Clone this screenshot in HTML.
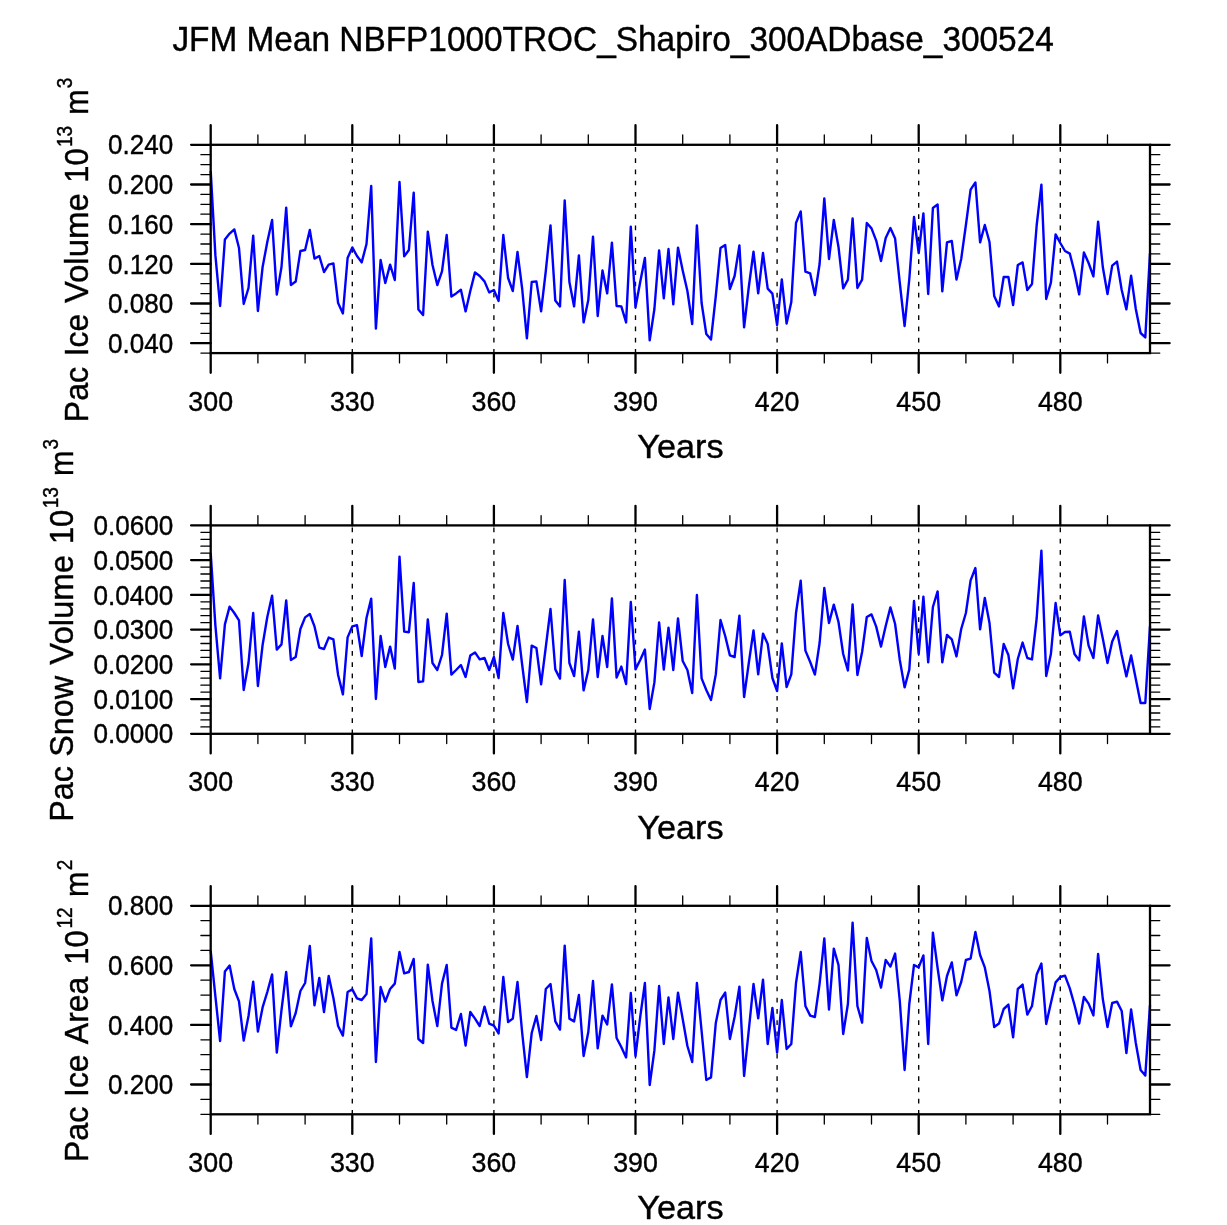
<!DOCTYPE html>
<html><head><meta charset="utf-8"><title>JFM Mean</title>
<style>
html,body{margin:0;padding:0;background:#fff;}
body{width:1227px;height:1225px;overflow:hidden;}
svg{display:block;will-change:transform;}
text{font-family:"Liberation Sans",sans-serif;fill:#000;stroke:#000;stroke-width:0.4px;}
.tk{font-size:28.4px;}
.lb{font-size:32.7px;}
.tt{font-size:34.6px;}
.fr{stroke:#000;stroke-width:2.3;fill:none;}
.mj{stroke:#000;stroke-width:2.3;fill:none;stroke-linecap:round;}
.mn{stroke:#000;stroke-width:1.3;fill:none;stroke-linecap:round;}
.ds{stroke:#000;stroke-width:1.35;stroke-dasharray:4.7 6.52;fill:none;}
.ln{stroke:#0000ff;stroke-width:2.4;fill:none;stroke-linejoin:round;stroke-linecap:butt;}
</style></head><body>
<svg width="1227" height="1225" viewBox="0 0 1227 1225">
<rect x="0" y="0" width="1227" height="1225" fill="#fff"/>
<text class="tt" x="613.1" y="51" text-anchor="middle" textLength="881.4" lengthAdjust="spacingAndGlyphs">JFM Mean NBFP1000TROC_Shapiro_300ADbase_300524</text>

<line class="ds" x1="352.3" y1="147.0" x2="352.3" y2="353.1"/>
<line class="ds" x1="493.9" y1="147.0" x2="493.9" y2="353.1"/>
<line class="ds" x1="635.5" y1="147.0" x2="635.5" y2="353.1"/>
<line class="ds" x1="777.1" y1="147.0" x2="777.1" y2="353.1"/>
<line class="ds" x1="918.7" y1="147.0" x2="918.7" y2="353.1"/>
<line class="ds" x1="1060.3" y1="147.0" x2="1060.3" y2="353.1"/>
<polyline class="ln" points="210.7,171.0 215.4,255.4 220.1,306.0 224.9,239.4 229.6,233.6 234.3,229.4 239.0,248.0 243.7,304.0 248.5,288.0 253.2,235.6 257.9,311.0 262.6,267.0 267.3,242.0 272.1,220.0 276.8,294.6 281.5,267.0 286.2,207.6 290.9,285.0 295.7,281.6 300.4,251.0 305.1,250.0 309.8,230.0 314.5,258.6 319.3,256.0 324.0,272.0 328.7,264.6 333.4,263.4 338.1,303.0 342.9,313.4 347.6,258.0 352.3,247.4 357.0,256.0 361.7,262.4 366.5,244.0 371.2,186.0 375.9,328.6 380.6,260.0 385.3,283.0 390.1,264.6 394.8,280.0 399.5,182.0 404.2,256.4 408.9,250.0 413.7,192.6 418.4,309.4 423.1,315.0 427.8,231.6 432.5,265.0 437.3,285.0 442.0,271.4 446.7,235.0 451.4,296.6 456.1,293.4 460.9,289.8 465.6,311.4 470.3,291.0 475.0,272.4 479.7,276.0 484.5,281.4 489.2,292.4 493.9,290.0 498.6,301.0 503.3,235.0 508.1,278.0 512.8,291.0 517.5,252.0 522.2,289.0 526.9,338.4 531.7,282.0 536.4,281.4 541.1,311.4 545.8,271.0 550.5,225.4 555.3,300.6 560.0,306.4 564.7,200.4 569.4,282.0 574.1,306.4 578.9,255.4 583.6,322.4 588.3,300.0 593.0,236.6 597.7,316.0 602.5,270.4 607.2,293.4 611.9,242.6 616.6,306.0 621.3,306.4 626.1,322.4 630.8,226.6 635.5,307.4 640.2,282.0 644.9,258.0 649.7,340.4 654.4,309.0 659.1,250.4 663.8,298.4 668.5,249.0 673.3,304.4 678.0,247.6 682.7,270.4 687.4,291.0 692.2,324.0 696.9,225.4 701.6,303.0 706.3,334.0 711.0,339.6 715.8,296.0 720.5,248.0 725.2,245.0 729.9,289.0 734.6,276.0 739.4,245.4 744.1,327.4 748.8,287.0 753.5,251.6 758.2,293.4 763.0,253.0 767.7,288.6 772.4,293.6 777.1,325.0 781.8,279.4 786.6,323.6 791.3,302.0 796.0,223.0 800.7,211.4 805.4,271.6 810.2,273.4 814.9,295.0 819.6,264.0 824.3,198.4 829.0,259.0 833.8,220.0 838.5,247.0 843.2,288.4 847.9,279.6 852.6,218.4 857.4,288.0 862.1,279.6 866.8,223.0 871.5,228.4 876.2,240.6 881.0,261.0 885.7,238.0 890.4,228.0 895.1,238.6 899.8,283.0 904.6,326.0 909.3,279.0 914.0,217.0 918.7,253.0 923.4,213.4 928.2,294.0 932.9,208.0 937.6,204.4 942.3,291.4 947.0,242.4 951.8,241.0 956.5,279.6 961.2,259.0 965.9,225.0 970.6,189.6 975.4,182.4 980.1,242.4 984.8,225.0 989.5,242.0 994.2,296.0 999.0,306.4 1003.7,277.0 1008.4,277.0 1013.1,305.0 1017.8,265.0 1022.6,262.4 1027.3,290.0 1032.0,284.0 1036.7,225.0 1041.4,184.6 1046.2,299.0 1050.9,282.6 1055.6,234.4 1060.3,243.0 1065.0,251.0 1069.8,253.6 1074.5,272.0 1079.2,294.4 1083.9,252.4 1088.6,263.0 1093.4,276.4 1098.1,221.6 1102.8,267.0 1107.5,294.0 1112.2,265.6 1117.0,261.6 1121.7,290.0 1126.4,309.4 1131.1,275.6 1135.8,309.0 1140.6,333.0 1145.3,337.4 1150.0,253.0"/>
<rect class="fr" x="210.7" y="144.8" width="939.3" height="208.3"/>
<path class="mj" d="M210.7 125.2V144.8M210.7 353.1V372.8M352.3 125.2V144.8M352.3 353.1V372.8M493.9 125.2V144.8M493.9 353.1V372.8M635.5 125.2V144.8M635.5 353.1V372.8M777.1 125.2V144.8M777.1 353.1V372.8M918.7 125.2V144.8M918.7 353.1V372.8M1060.3 125.2V144.8M1060.3 353.1V372.8M191.1 343.2H210.7M1150.0 343.2H1169.6M191.1 303.5H210.7M1150.0 303.5H1169.6M191.1 263.9H210.7M1150.0 263.9H1169.6M191.1 224.2H210.7M1150.0 224.2H1169.6M191.1 184.5H210.7M1150.0 184.5H1169.6M191.1 144.8H210.7M1150.0 144.8H1169.6"/>
<path class="mn" d="M257.9 135.0V144.8M257.9 353.1V362.9M305.1 135.0V144.8M305.1 353.1V362.9M399.5 135.0V144.8M399.5 353.1V362.9M446.7 135.0V144.8M446.7 353.1V362.9M541.1 135.0V144.8M541.1 353.1V362.9M588.3 135.0V144.8M588.3 353.1V362.9M682.7 135.0V144.8M682.7 353.1V362.9M729.9 135.0V144.8M729.9 353.1V362.9M824.3 135.0V144.8M824.3 353.1V362.9M871.5 135.0V144.8M871.5 353.1V362.9M965.9 135.0V144.8M965.9 353.1V362.9M1013.1 135.0V144.8M1013.1 353.1V362.9M1107.5 135.0V144.8M1107.5 353.1V362.9M200.9 353.1H210.7M1150.0 353.1H1159.8M200.9 333.3H210.7M1150.0 333.3H1159.8M200.9 323.4H210.7M1150.0 323.4H1159.8M200.9 313.5H210.7M1150.0 313.5H1159.8M200.9 293.6H210.7M1150.0 293.6H1159.8M200.9 283.7H210.7M1150.0 283.7H1159.8M200.9 273.8H210.7M1150.0 273.8H1159.8M200.9 253.9H210.7M1150.0 253.9H1159.8M200.9 244.0H210.7M1150.0 244.0H1159.8M200.9 234.1H210.7M1150.0 234.1H1159.8M200.9 214.2H210.7M1150.0 214.2H1159.8M200.9 204.3H210.7M1150.0 204.3H1159.8M200.9 194.4H210.7M1150.0 194.4H1159.8M200.9 174.6H210.7M1150.0 174.6H1159.8M200.9 164.6H210.7M1150.0 164.6H1159.8M200.9 154.7H210.7M1150.0 154.7H1159.8"/>
<text class="tk" x="173.2" y="154.4" text-anchor="end" textLength="65.2" lengthAdjust="spacingAndGlyphs">0.240</text>
<text class="tk" x="173.2" y="194.1" text-anchor="end" textLength="65.2" lengthAdjust="spacingAndGlyphs">0.200</text>
<text class="tk" x="173.2" y="233.8" text-anchor="end" textLength="65.2" lengthAdjust="spacingAndGlyphs">0.160</text>
<text class="tk" x="173.2" y="273.5" text-anchor="end" textLength="65.2" lengthAdjust="spacingAndGlyphs">0.120</text>
<text class="tk" x="173.2" y="313.1" text-anchor="end" textLength="65.2" lengthAdjust="spacingAndGlyphs">0.080</text>
<text class="tk" x="173.2" y="352.8" text-anchor="end" textLength="65.2" lengthAdjust="spacingAndGlyphs">0.040</text>
<text class="tk" x="210.7" y="410.5" text-anchor="middle" textLength="44.7" lengthAdjust="spacingAndGlyphs">300</text>
<text class="tk" x="352.3" y="410.5" text-anchor="middle" textLength="44.7" lengthAdjust="spacingAndGlyphs">330</text>
<text class="tk" x="493.9" y="410.5" text-anchor="middle" textLength="44.7" lengthAdjust="spacingAndGlyphs">360</text>
<text class="tk" x="635.5" y="410.5" text-anchor="middle" textLength="44.7" lengthAdjust="spacingAndGlyphs">390</text>
<text class="tk" x="777.1" y="410.5" text-anchor="middle" textLength="44.7" lengthAdjust="spacingAndGlyphs">420</text>
<text class="tk" x="918.7" y="410.5" text-anchor="middle" textLength="44.7" lengthAdjust="spacingAndGlyphs">450</text>
<text class="tk" x="1060.3" y="410.5" text-anchor="middle" textLength="44.7" lengthAdjust="spacingAndGlyphs">480</text>
<text class="lb" transform="translate(680.4,458.1) scale(1,1.035)" text-anchor="middle" textLength="86.2" lengthAdjust="spacingAndGlyphs">Years</text>
<text transform="translate(88.3,422.38) rotate(-90) scale(1,1.025)" font-size="32.7" textLength="55.6" lengthAdjust="spacingAndGlyphs">Pac</text>
<text transform="translate(88.3,356.26) rotate(-90) scale(1,1.025)" font-size="32.7" textLength="42.6" lengthAdjust="spacingAndGlyphs">Ice</text>
<text transform="translate(88.3,303.11) rotate(-90) scale(1,1.025)" font-size="32.7" textLength="109.9" lengthAdjust="spacingAndGlyphs">Volume</text>
<text transform="translate(88.3,182.71) rotate(-90) scale(1,1.025)" font-size="32.7" textLength="34.4" lengthAdjust="spacingAndGlyphs">10</text>
<text transform="translate(72.0,147.07) rotate(-90) scale(1,1.025)" font-size="21.7" textLength="21.2" lengthAdjust="spacingAndGlyphs">13</text>
<text transform="translate(88.3,114.67) rotate(-90) scale(1,1.025)" font-size="32.7" textLength="25.3" lengthAdjust="spacingAndGlyphs">m</text>
<text transform="translate(72.0,88.3) rotate(-90) scale(1,1.025)" font-size="21.7" textLength="10.5" lengthAdjust="spacingAndGlyphs">3</text>
<line class="ds" x1="352.3" y1="527.6" x2="352.3" y2="733.8"/>
<line class="ds" x1="493.9" y1="527.6" x2="493.9" y2="733.8"/>
<line class="ds" x1="635.5" y1="527.6" x2="635.5" y2="733.8"/>
<line class="ds" x1="777.1" y1="527.6" x2="777.1" y2="733.8"/>
<line class="ds" x1="918.7" y1="527.6" x2="918.7" y2="733.8"/>
<line class="ds" x1="1060.3" y1="527.6" x2="1060.3" y2="733.8"/>
<polyline class="ln" points="210.7,553.4 215.4,625.6 220.1,678.4 224.9,624.4 229.6,606.6 234.3,613.0 239.0,620.4 243.7,690.0 248.5,663.0 253.2,613.0 257.9,686.0 262.6,645.0 267.3,617.0 272.1,595.6 276.8,649.6 281.5,644.4 286.2,600.4 290.9,660.0 295.7,657.0 300.4,629.0 305.1,617.4 309.8,614.0 314.5,626.4 319.3,647.6 324.0,649.0 328.7,637.6 333.4,639.4 338.1,675.0 342.9,694.4 347.6,637.4 352.3,626.4 357.0,625.2 361.7,656.0 366.5,618.0 371.2,598.6 375.9,699.0 380.6,636.0 385.3,667.0 390.1,646.6 394.8,668.6 399.5,556.6 404.2,631.6 408.9,632.2 413.7,583.0 418.4,682.0 423.1,681.4 427.8,619.4 432.5,663.0 437.3,670.0 442.0,655.0 446.7,613.6 451.4,674.6 456.1,670.0 460.9,665.0 465.6,677.0 470.3,655.4 475.0,652.4 479.7,659.4 484.5,658.0 489.2,670.0 493.9,657.0 498.6,678.0 503.3,613.0 508.1,644.0 512.8,659.6 517.5,626.0 522.2,665.0 526.9,702.0 531.7,645.6 536.4,648.0 541.1,684.4 545.8,647.0 550.5,609.0 555.3,669.4 560.0,678.6 564.7,580.0 569.4,663.0 574.1,676.0 578.9,631.6 583.6,690.4 588.3,670.0 593.0,619.4 597.7,677.0 602.5,636.0 607.2,667.0 611.9,598.4 616.6,677.6 621.3,666.6 626.1,684.0 630.8,602.0 635.5,669.4 640.2,660.0 644.9,649.6 649.7,709.0 654.4,682.4 659.1,622.4 663.8,669.6 668.5,627.6 673.3,670.0 678.0,618.4 682.7,661.0 687.4,670.0 692.2,693.0 696.9,595.0 701.6,678.4 706.3,690.0 711.0,700.0 715.8,674.4 720.5,620.0 725.2,636.0 729.9,655.4 734.6,657.0 739.4,615.6 744.1,697.0 748.8,663.0 753.5,630.4 758.2,674.4 763.0,633.6 767.7,644.0 772.4,678.0 777.1,691.0 781.8,643.4 786.6,687.0 791.3,674.4 796.0,613.0 800.7,580.6 805.4,650.6 810.2,662.0 814.9,674.6 819.6,643.0 824.3,588.0 829.0,623.0 833.8,604.6 838.5,622.0 843.2,654.0 847.9,670.4 852.6,604.4 857.4,675.0 862.1,652.0 866.8,617.0 871.5,614.4 876.2,626.6 881.0,646.6 885.7,626.0 890.4,607.4 895.1,624.0 899.8,660.0 904.6,687.4 909.3,669.6 914.0,601.0 918.7,654.0 923.4,596.6 928.2,662.4 932.9,607.0 937.6,591.4 942.3,662.4 947.0,635.0 951.8,639.4 956.5,656.4 961.2,629.0 965.9,613.0 970.6,580.4 975.4,568.0 980.1,629.4 984.8,598.0 989.5,623.0 994.2,672.6 999.0,677.0 1003.7,644.0 1008.4,655.0 1013.1,688.4 1017.8,659.0 1022.6,642.6 1027.3,658.0 1032.0,659.4 1036.7,618.0 1041.4,550.6 1046.2,676.0 1050.9,654.0 1055.6,603.0 1060.3,635.4 1065.0,632.0 1069.8,631.8 1074.5,654.0 1079.2,660.4 1083.9,616.4 1088.6,645.6 1093.4,658.0 1098.1,615.4 1102.8,638.6 1107.5,663.0 1112.2,641.6 1117.0,631.0 1121.7,655.0 1126.4,676.4 1131.1,655.4 1135.8,679.0 1140.6,703.0 1145.3,703.0 1150.0,626.0"/>
<rect class="fr" x="210.7" y="525.4" width="939.3" height="208.4"/>
<path class="mj" d="M210.7 505.8V525.4M210.7 733.8V753.4M352.3 505.8V525.4M352.3 733.8V753.4M493.9 505.8V525.4M493.9 733.8V753.4M635.5 505.8V525.4M635.5 733.8V753.4M777.1 505.8V525.4M777.1 733.8V753.4M918.7 505.8V525.4M918.7 733.8V753.4M1060.3 505.8V525.4M1060.3 733.8V753.4M191.1 733.8H210.7M1150.0 733.8H1169.6M191.1 699.1H210.7M1150.0 699.1H1169.6M191.1 664.3H210.7M1150.0 664.3H1169.6M191.1 629.6H210.7M1150.0 629.6H1169.6M191.1 594.9H210.7M1150.0 594.9H1169.6M191.1 560.1H210.7M1150.0 560.1H1169.6M191.1 525.4H210.7M1150.0 525.4H1169.6"/>
<path class="mn" d="M257.9 515.6V525.4M257.9 733.8V743.6M305.1 515.6V525.4M305.1 733.8V743.6M399.5 515.6V525.4M399.5 733.8V743.6M446.7 515.6V525.4M446.7 733.8V743.6M541.1 515.6V525.4M541.1 733.8V743.6M588.3 515.6V525.4M588.3 733.8V743.6M682.7 515.6V525.4M682.7 733.8V743.6M729.9 515.6V525.4M729.9 733.8V743.6M824.3 515.6V525.4M824.3 733.8V743.6M871.5 515.6V525.4M871.5 733.8V743.6M965.9 515.6V525.4M965.9 733.8V743.6M1013.1 515.6V525.4M1013.1 733.8V743.6M1107.5 515.6V525.4M1107.5 733.8V743.6M200.9 726.9H210.7M1150.0 726.9H1159.8M200.9 719.9H210.7M1150.0 719.9H1159.8M200.9 713.0H210.7M1150.0 713.0H1159.8M200.9 706.0H210.7M1150.0 706.0H1159.8M200.9 692.1H210.7M1150.0 692.1H1159.8M200.9 685.2H210.7M1150.0 685.2H1159.8M200.9 678.2H210.7M1150.0 678.2H1159.8M200.9 671.3H210.7M1150.0 671.3H1159.8M200.9 657.4H210.7M1150.0 657.4H1159.8M200.9 650.4H210.7M1150.0 650.4H1159.8M200.9 643.5H210.7M1150.0 643.5H1159.8M200.9 636.5H210.7M1150.0 636.5H1159.8M200.9 622.7H210.7M1150.0 622.7H1159.8M200.9 615.7H210.7M1150.0 615.7H1159.8M200.9 608.8H210.7M1150.0 608.8H1159.8M200.9 601.8H210.7M1150.0 601.8H1159.8M200.9 587.9H210.7M1150.0 587.9H1159.8M200.9 581.0H210.7M1150.0 581.0H1159.8M200.9 574.0H210.7M1150.0 574.0H1159.8M200.9 567.1H210.7M1150.0 567.1H1159.8M200.9 553.2H210.7M1150.0 553.2H1159.8M200.9 546.2H210.7M1150.0 546.2H1159.8M200.9 539.3H210.7M1150.0 539.3H1159.8M200.9 532.3H210.7M1150.0 532.3H1159.8"/>
<text class="tk" x="173.2" y="535.0" text-anchor="end" textLength="79.8" lengthAdjust="spacingAndGlyphs">0.0600</text>
<text class="tk" x="173.2" y="569.7" text-anchor="end" textLength="79.8" lengthAdjust="spacingAndGlyphs">0.0500</text>
<text class="tk" x="173.2" y="604.5" text-anchor="end" textLength="79.8" lengthAdjust="spacingAndGlyphs">0.0400</text>
<text class="tk" x="173.2" y="639.2" text-anchor="end" textLength="79.8" lengthAdjust="spacingAndGlyphs">0.0300</text>
<text class="tk" x="173.2" y="673.9" text-anchor="end" textLength="79.8" lengthAdjust="spacingAndGlyphs">0.0200</text>
<text class="tk" x="173.2" y="708.7" text-anchor="end" textLength="79.8" lengthAdjust="spacingAndGlyphs">0.0100</text>
<text class="tk" x="173.2" y="743.4" text-anchor="end" textLength="79.8" lengthAdjust="spacingAndGlyphs">0.0000</text>
<text class="tk" x="210.7" y="791.2" text-anchor="middle" textLength="44.7" lengthAdjust="spacingAndGlyphs">300</text>
<text class="tk" x="352.3" y="791.2" text-anchor="middle" textLength="44.7" lengthAdjust="spacingAndGlyphs">330</text>
<text class="tk" x="493.9" y="791.2" text-anchor="middle" textLength="44.7" lengthAdjust="spacingAndGlyphs">360</text>
<text class="tk" x="635.5" y="791.2" text-anchor="middle" textLength="44.7" lengthAdjust="spacingAndGlyphs">390</text>
<text class="tk" x="777.1" y="791.2" text-anchor="middle" textLength="44.7" lengthAdjust="spacingAndGlyphs">420</text>
<text class="tk" x="918.7" y="791.2" text-anchor="middle" textLength="44.7" lengthAdjust="spacingAndGlyphs">450</text>
<text class="tk" x="1060.3" y="791.2" text-anchor="middle" textLength="44.7" lengthAdjust="spacingAndGlyphs">480</text>
<text class="lb" transform="translate(680.4,838.8) scale(1,1.035)" text-anchor="middle" textLength="86.2" lengthAdjust="spacingAndGlyphs">Years</text>
<text transform="translate(73.3,821.69) rotate(-90) scale(1,1.025)" font-size="32.7" textLength="55.6" lengthAdjust="spacingAndGlyphs">Pac</text>
<text transform="translate(73.3,756.73) rotate(-90) scale(1,1.025)" font-size="32.7" textLength="80.88" lengthAdjust="spacingAndGlyphs">Snow</text>
<text transform="translate(73.3,664.77) rotate(-90) scale(1,1.025)" font-size="32.7" textLength="109.9" lengthAdjust="spacingAndGlyphs">Volume</text>
<text transform="translate(73.3,544.09) rotate(-90) scale(1,1.025)" font-size="32.7" textLength="34.4" lengthAdjust="spacingAndGlyphs">10</text>
<text transform="translate(57.6,508.23) rotate(-90) scale(1,1.025)" font-size="21.7" textLength="21.2" lengthAdjust="spacingAndGlyphs">13</text>
<text transform="translate(73.3,476.07) rotate(-90) scale(1,1.025)" font-size="32.7" textLength="25.3" lengthAdjust="spacingAndGlyphs">m</text>
<text transform="translate(57.6,449.6) rotate(-90) scale(1,1.025)" font-size="21.7" textLength="10.5" lengthAdjust="spacingAndGlyphs">3</text>
<line class="ds" x1="352.3" y1="908.0" x2="352.3" y2="1114.3"/>
<line class="ds" x1="493.9" y1="908.0" x2="493.9" y2="1114.3"/>
<line class="ds" x1="635.5" y1="908.0" x2="635.5" y2="1114.3"/>
<line class="ds" x1="777.1" y1="908.0" x2="777.1" y2="1114.3"/>
<line class="ds" x1="918.7" y1="908.0" x2="918.7" y2="1114.3"/>
<line class="ds" x1="1060.3" y1="908.0" x2="1060.3" y2="1114.3"/>
<polyline class="ln" points="210.7,951.0 215.4,996.4 220.1,1041.0 224.9,971.4 229.6,965.6 234.3,989.0 239.0,1001.4 243.7,1040.6 248.5,1016.0 253.2,981.6 257.9,1031.6 262.6,1007.4 267.3,992.0 272.1,974.4 276.8,1052.6 281.5,1010.0 286.2,972.0 290.9,1026.4 295.7,1013.0 300.4,991.0 305.1,983.0 309.8,946.0 314.5,1005.4 319.3,978.0 324.0,1012.0 328.7,976.0 333.4,998.0 338.1,1026.0 342.9,1035.6 347.6,992.0 352.3,989.4 357.0,998.4 361.7,1000.0 366.5,994.0 371.2,938.4 375.9,1062.0 380.6,987.0 385.3,1001.6 390.1,989.0 394.8,983.6 399.5,952.0 404.2,973.4 408.9,972.0 413.7,959.0 418.4,1039.0 423.1,1043.0 427.8,964.6 432.5,1001.0 437.3,1026.0 442.0,983.6 446.7,965.0 451.4,1027.6 456.1,1030.0 460.9,1014.0 465.6,1045.6 470.3,1012.0 475.0,1018.6 479.7,1026.0 484.5,1006.6 489.2,1023.6 493.9,1025.6 498.6,1033.4 503.3,977.0 508.1,1022.0 512.8,1018.6 517.5,982.0 522.2,1033.0 526.9,1077.0 531.7,1033.0 536.4,1016.0 541.1,1040.0 545.8,989.0 550.5,984.0 555.3,1021.4 560.0,1029.6 564.7,945.6 569.4,1018.6 574.1,1021.4 578.9,995.0 583.6,1056.0 588.3,1032.0 593.0,981.0 597.7,1048.4 602.5,1015.6 607.2,1024.4 611.9,984.4 616.6,1038.0 621.3,1047.0 626.1,1057.4 630.8,993.0 635.5,1056.0 640.2,1017.0 644.9,983.0 649.7,1085.0 654.4,1050.4 659.1,986.0 663.8,1044.0 668.5,997.4 673.3,1039.0 678.0,992.6 682.7,1019.0 687.4,1046.0 692.2,1062.0 696.9,983.0 701.6,1031.0 706.3,1080.0 711.0,1077.4 715.8,1023.0 720.5,1000.0 725.2,992.6 729.9,1039.0 734.6,1017.0 739.4,986.6 744.1,1076.0 748.8,1030.0 753.5,984.0 758.2,1018.4 763.0,979.6 767.7,1044.0 772.4,1008.0 777.1,1052.6 781.8,1000.0 786.6,1049.0 791.3,1044.0 796.0,983.0 800.7,952.0 805.4,1006.0 810.2,1015.6 814.9,1017.0 819.6,983.6 824.3,938.4 829.0,1009.6 833.8,948.6 838.5,965.0 843.2,1034.0 847.9,1004.0 852.6,922.6 857.4,1006.0 862.1,1022.6 866.8,938.0 871.5,961.0 876.2,970.0 881.0,987.6 885.7,960.0 890.4,966.6 895.1,953.6 899.8,1001.0 904.6,1070.0 909.3,1004.0 914.0,965.0 918.7,967.4 923.4,955.4 928.2,1044.0 932.9,932.6 937.6,968.0 942.3,1000.4 947.0,976.0 951.8,962.4 956.5,995.4 961.2,982.0 965.9,960.0 970.6,958.6 975.4,932.0 980.1,955.0 984.8,967.4 989.5,991.0 994.2,1027.0 999.0,1023.6 1003.7,1009.0 1008.4,1004.6 1013.1,1037.4 1017.8,989.0 1022.6,984.6 1027.3,1014.6 1032.0,1006.0 1036.7,974.4 1041.4,963.6 1046.2,1024.0 1050.9,1003.0 1055.6,982.4 1060.3,977.0 1065.0,975.6 1069.8,988.4 1074.5,1005.0 1079.2,1023.6 1083.9,997.0 1088.6,1003.6 1093.4,1015.4 1098.1,954.0 1102.8,999.0 1107.5,1027.0 1112.2,1003.0 1117.0,1001.6 1121.7,1011.0 1126.4,1053.0 1131.1,1009.4 1135.8,1043.0 1140.6,1070.0 1145.3,1075.6 1150.0,1005.0"/>
<rect class="fr" x="210.7" y="905.8" width="939.3" height="208.5"/>
<path class="mj" d="M210.7 886.1V905.8M210.7 1114.3V1133.9M352.3 886.1V905.8M352.3 1114.3V1133.9M493.9 886.1V905.8M493.9 1114.3V1133.9M635.5 886.1V905.8M635.5 1114.3V1133.9M777.1 886.1V905.8M777.1 1114.3V1133.9M918.7 886.1V905.8M918.7 1114.3V1133.9M1060.3 886.1V905.8M1060.3 1114.3V1133.9M191.1 1084.5H210.7M1150.0 1084.5H1169.6M191.1 1024.9H210.7M1150.0 1024.9H1169.6M191.1 965.3H210.7M1150.0 965.3H1169.6M191.1 905.8H210.7M1150.0 905.8H1169.6"/>
<path class="mn" d="M257.9 896.0V905.8M257.9 1114.3V1124.1M305.1 896.0V905.8M305.1 1114.3V1124.1M399.5 896.0V905.8M399.5 1114.3V1124.1M446.7 896.0V905.8M446.7 1114.3V1124.1M541.1 896.0V905.8M541.1 1114.3V1124.1M588.3 896.0V905.8M588.3 1114.3V1124.1M682.7 896.0V905.8M682.7 1114.3V1124.1M729.9 896.0V905.8M729.9 1114.3V1124.1M824.3 896.0V905.8M824.3 1114.3V1124.1M871.5 896.0V905.8M871.5 1114.3V1124.1M965.9 896.0V905.8M965.9 1114.3V1124.1M1013.1 896.0V905.8M1013.1 1114.3V1124.1M1107.5 896.0V905.8M1107.5 1114.3V1124.1M200.9 1114.3H210.7M1150.0 1114.3H1159.8M200.9 1099.4H210.7M1150.0 1099.4H1159.8M200.9 1069.6H210.7M1150.0 1069.6H1159.8M200.9 1054.7H210.7M1150.0 1054.7H1159.8M200.9 1039.8H210.7M1150.0 1039.8H1159.8M200.9 1010.0H210.7M1150.0 1010.0H1159.8M200.9 995.1H210.7M1150.0 995.1H1159.8M200.9 980.2H210.7M1150.0 980.2H1159.8M200.9 950.4H210.7M1150.0 950.4H1159.8M200.9 935.5H210.7M1150.0 935.5H1159.8M200.9 920.6H210.7M1150.0 920.6H1159.8"/>
<text class="tk" x="173.2" y="915.4" text-anchor="end" textLength="65.2" lengthAdjust="spacingAndGlyphs">0.800</text>
<text class="tk" x="173.2" y="974.9" text-anchor="end" textLength="65.2" lengthAdjust="spacingAndGlyphs">0.600</text>
<text class="tk" x="173.2" y="1034.5" text-anchor="end" textLength="65.2" lengthAdjust="spacingAndGlyphs">0.400</text>
<text class="tk" x="173.2" y="1094.1" text-anchor="end" textLength="65.2" lengthAdjust="spacingAndGlyphs">0.200</text>
<text class="tk" x="210.7" y="1171.7" text-anchor="middle" textLength="44.7" lengthAdjust="spacingAndGlyphs">300</text>
<text class="tk" x="352.3" y="1171.7" text-anchor="middle" textLength="44.7" lengthAdjust="spacingAndGlyphs">330</text>
<text class="tk" x="493.9" y="1171.7" text-anchor="middle" textLength="44.7" lengthAdjust="spacingAndGlyphs">360</text>
<text class="tk" x="635.5" y="1171.7" text-anchor="middle" textLength="44.7" lengthAdjust="spacingAndGlyphs">390</text>
<text class="tk" x="777.1" y="1171.7" text-anchor="middle" textLength="44.7" lengthAdjust="spacingAndGlyphs">420</text>
<text class="tk" x="918.7" y="1171.7" text-anchor="middle" textLength="44.7" lengthAdjust="spacingAndGlyphs">450</text>
<text class="tk" x="1060.3" y="1171.7" text-anchor="middle" textLength="44.7" lengthAdjust="spacingAndGlyphs">480</text>
<text class="lb" transform="translate(680.4,1219.3) scale(1,1.035)" text-anchor="middle" textLength="86.2" lengthAdjust="spacingAndGlyphs">Years</text>
<text transform="translate(88.3,1162.24) rotate(-90) scale(1,1.025)" font-size="32.7" textLength="55.6" lengthAdjust="spacingAndGlyphs">Pac</text>
<text transform="translate(88.3,1096.97) rotate(-90) scale(1,1.025)" font-size="32.7" textLength="42.6" lengthAdjust="spacingAndGlyphs">Ice</text>
<text transform="translate(88.3,1044.15) rotate(-90) scale(1,1.025)" font-size="32.7" textLength="67.45" lengthAdjust="spacingAndGlyphs">Area</text>
<text transform="translate(88.3,964.75) rotate(-90) scale(1,1.025)" font-size="32.7" textLength="34.4" lengthAdjust="spacingAndGlyphs">10</text>
<text transform="translate(72.0,928.52) rotate(-90) scale(1,1.025)" font-size="21.7" textLength="21.2" lengthAdjust="spacingAndGlyphs">12</text>
<text transform="translate(88.3,897.09) rotate(-90) scale(1,1.025)" font-size="32.7" textLength="25.3" lengthAdjust="spacingAndGlyphs">m</text>
<text transform="translate(72.0,870.21) rotate(-90) scale(1,1.025)" font-size="21.7" textLength="10.5" lengthAdjust="spacingAndGlyphs">2</text>
</svg></body></html>
